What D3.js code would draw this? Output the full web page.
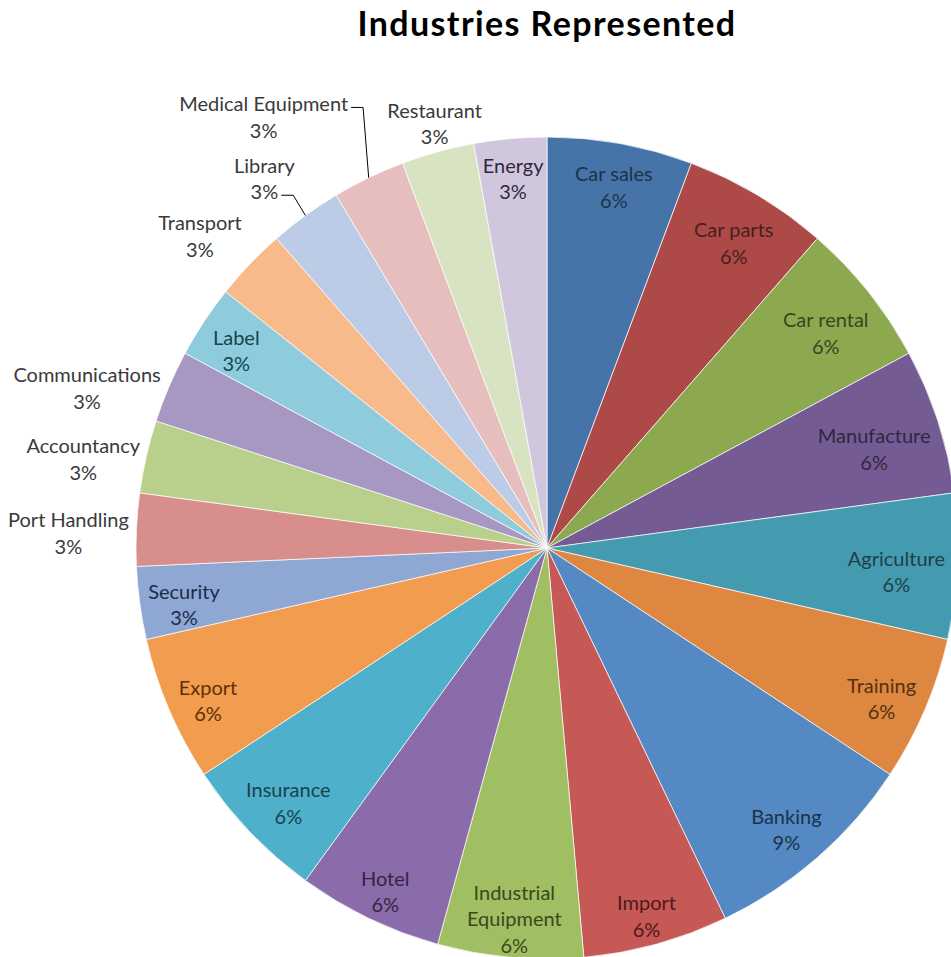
<!DOCTYPE html>
<html><head><meta charset="utf-8">
<script src="https://cdn.jsdelivr.net/npm/d3@7/dist/d3.min.js"></script>
<style>body{margin:0;background:#fff}svg{display:block}</style>
</head><body>
<svg id="c" width="951" height="957"></svg>
<script>
// ---- data ----
const title = "Industries Represented";
const categories = ["Car sales","Car parts","Car rental","Manufacture","Agriculture","Training","Banking","Import","Industrial Equipment","Hotel","Insurance","Export","Security","Port Handling","Accountancy","Communications","Label","Transport","Library","Medical Equipment","Restaurant","Energy"];
const counts = [2,2,2,2,2,2,3,2,2,2,2,2,1,1,1,1,1,1,1,1,1,1];
const colors = ["#4674A9","#AD4A47","#8CA950","#745B94","#449AAF","#DD8740","#5589C3","#C65955","#A0BE62","#8A6CAA","#4EB0CA","#F29C50","#8FA7D3","#D88E8D","#B8D08B","#A797C3","#8ECCDD","#F8BA8A","#BDCCE6","#E6BEBE","#D8E4C1","#D1C7DD"];
// label placement for labels drawn outside the pie (offset of the label block from the slice edge point)
const outsideLabels = {
  "Medical Equipment": {dx:-105, dy:-61, leaderRow:0},
  "Restaurant": {dx:-3, dy:-29},
  "Library": {dx:-41, dy:-37.5, leaderRow:1},
  "Transport": {dx:-50, dy:-28.5},
  "Communications": {dx:-82, dy:1},
  "Accountancy": {dx:-63, dy:2},
  "Port Handling": {dx:-68, dy:3}
};

// ---- layout ----
const W = 951, H = 957, cx = 547, cy = 548, R = 411;
const FONT = "Lato, 'Open Sans', sans-serif";
const LS = 20, LH = 26.5;
const svg = d3.select("#c");

svg.append("text").attr("x", 547).attr("y", 36).attr("text-anchor","middle")
  .attr("font-family", FONT).attr("font-weight", "bold").attr("font-size", 34)
  .attr("letter-spacing", "1.4px")
  .attr("fill", "#000").text(title);

const data = categories.map((c,i)=>({name:c, value:counts[i], color:colors[i]}));
const total = d3.sum(counts);
const pie = d3.pie().value(d=>d.value).sort(null).startAngle(0).endAngle(2*Math.PI);
const arcs = pie(data);
const arc = d3.arc().innerRadius(0).outerRadius(R);
const g = svg.append("g").attr("transform", `translate(${cx},${cy})`);

g.selectAll("path.slice").data(arcs).join("path").attr("class","slice")
  .attr("d", arc).attr("fill", d=>d.data.color)
  .attr("stroke", "#fff").attr("stroke-width", 1).attr("stroke-opacity", 0.7);

const pct = d => Math.round(d.value/total*100) + "%";
const labelG = g.append("g");

arcs.forEach(d => {
  const name = d.data.name;
  const out = outsideLabels[name];
  const nameLines = (!out && name.length > 12) ? name.split(" ") : [name];
  const lines = nameLines.concat([pct(d)]);
  const n = lines.length;
  const hc = d3.hsl(d.data.color); hc.l = 0.2;
  const fill = out ? "#3a3a3a" : hc.formatHex();
  const t = labelG.append("text").attr("text-anchor","middle")
    .attr("font-family", FONT).attr("font-size", LS).attr("fill", fill);
  const spans = lines.map((ln,i) => t.append("tspan").attr("x",0)
      .attr("y", (i-(n-1)/2)*LH).attr("dominant-baseline","central").text(ln));
  const widths = spans.map(s => s.node().getComputedTextLength());
  const w = d3.max(widths), h = n*24;
  const a = (d.startAngle + d.endAngle)/2;
  const ux = Math.sin(a), uy = -Math.cos(a);
  let px, py;
  if (out) {
    px = ux*R + out.dx; py = uy*R + out.dy;
  } else {
    const e = Math.abs(ux)*w/2 + Math.abs(uy)*h/2;
    const r = R - 6 - e;
    px = ux*r; py = uy*r + 7;
    const maxX = W - 6 - cx - w/2;
    if (px > maxX) px = maxX;
  }
  t.attr("transform", `translate(${px},${py})`);
  if (out && out.leaderRow !== undefined) {
    const row = out.leaderRow;
    const ax = px + widths[row]/2 + 3;
    const ay = py + (row-(n-1)/2)*LH + 4;
    labelG.append("polyline")
      .attr("points", [[ax,ay],[ax+12,ay],[ux*R, uy*R]].map(p=>p.join(",")).join(" "))
      .attr("fill","none").attr("stroke","#000").attr("stroke-width",1);
  }
});
</script>
</body></html>
